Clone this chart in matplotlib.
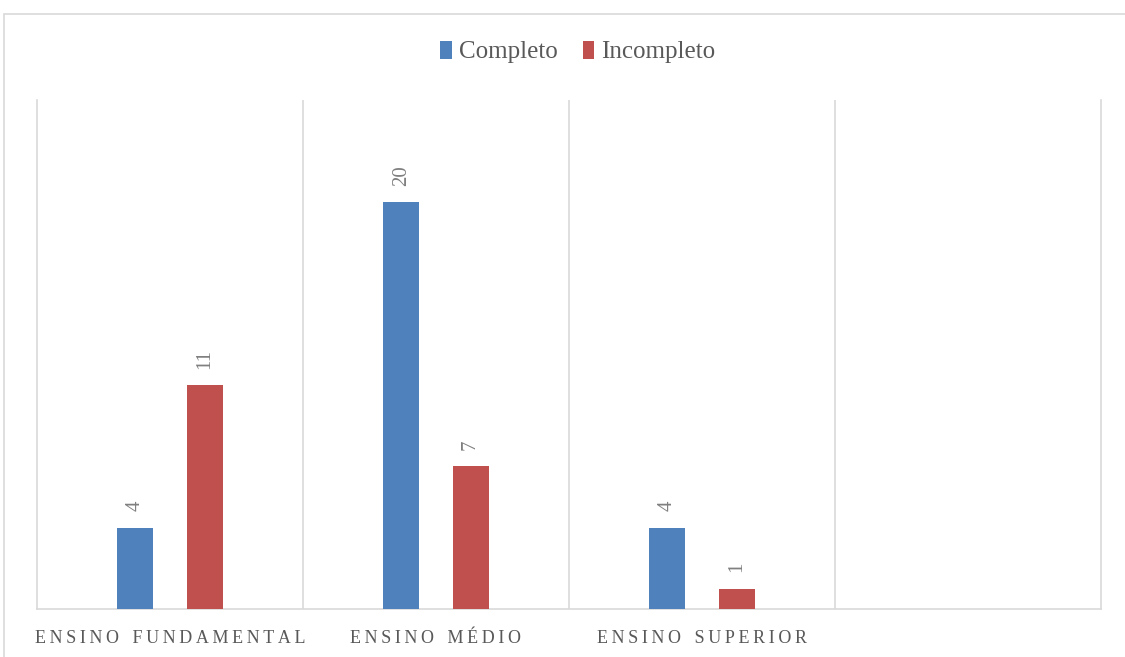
import matplotlib
matplotlib.use("Agg")
import matplotlib.pyplot as plt
from matplotlib.patches import Rectangle
import numpy as np

categories = ["ENSINO FUNDAMENTAL", "ENSINO MÉDIO", "ENSINO SUPERIOR", ""]
completo = [4, 20, 4, None]
incompleto = [11, 7, 1, None]
series_names = ["Completo", "Incompleto"]
colors = ["#4F81BD", "#C0504D"]

plt.rcParams['font.family'] = ['Liberation Serif', 'DejaVu Serif']

fig = plt.figure(figsize=(11.25, 6.57), dpi=100)
ax = fig.add_axes([37/1125, 48/657, (1101-37)/1125, (609-100)/657])

# outer chart border
fig.patches.append(Rectangle((4/1125, -0.05), 1.2, (657-14)/657 + 0.05,
                             transform=fig.transFigure, fill=False,
                             edgecolor="#d9d9d9", linewidth=1.2))

x = np.arange(len(categories))
w = 0.135
off = 0.13
gray = "#595959"
for vals, sign, c, name in [(completo, -1, colors[0], series_names[0]),
                            (incompleto, 1, colors[1], series_names[1])]:
    xs = [xi + sign*off for xi, v in zip(x, vals) if v is not None]
    vs = [v for v in vals if v is not None]
    ax.bar(xs, vs, width=w, color=c, label=name, zorder=3)
    for xi, v in zip(xs, vs):
        ax.text(xi, v + 0.8, str(v), rotation=90, ha="center", va="bottom",
                fontsize=15, color="#7f7f7f")

ax.set_xlim(-0.5, len(categories) - 0.5)
ax.set_ylim(0, 25)
ax.set_yticks([])
ax.set_xticks(x)
spaced = ["   ".join("\u2009".join(word) for word in c.split(" ")) for c in categories]
ax.set_xticklabels(spaced, fontsize=13, color=gray)
ax.tick_params(axis="x", length=0, pad=15)
for b in np.arange(0.5, len(categories) - 0.5, 1.0):
    ax.axvline(b, color="#d9d9d9", linewidth=1.2, zorder=1)
ax.spines["top"].set_visible(False)
for s in ["left", "right", "bottom"]:
    ax.spines[s].set_color("#d9d9d9")
    ax.spines[s].set_linewidth(1.2)

leg = fig.legend(loc="center", bbox_to_anchor=(578/1125, 1 - 52/657), ncol=2,
                 frameon=False, handlelength=0.45, handleheight=0.75,
                 handletextpad=0.3, columnspacing=1.0,
                 prop={"family": "Liberation Serif", "size": 18})
for t in leg.get_texts():
    t.set_color(gray)

fig.savefig("out.png", dpi=100)
